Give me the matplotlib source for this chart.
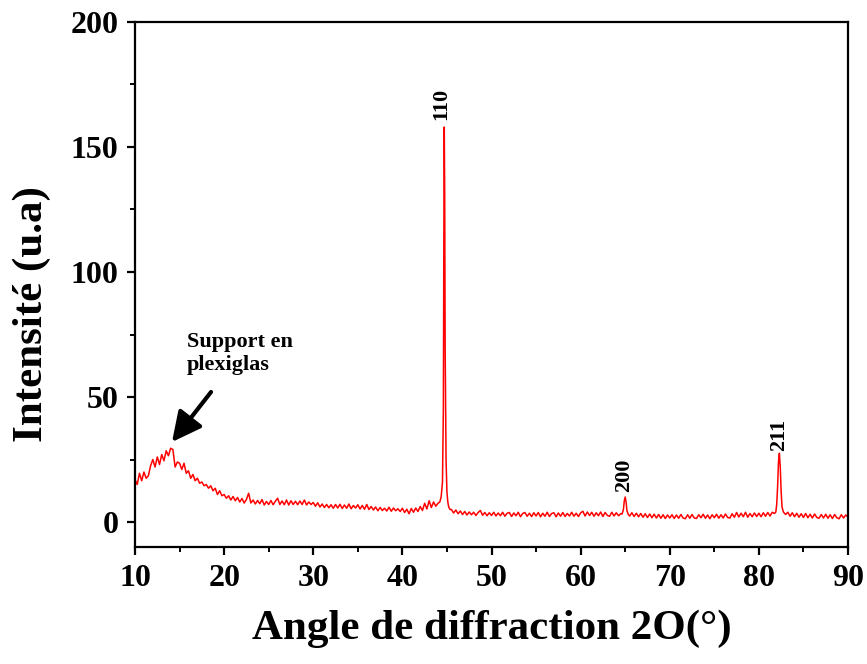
import numpy as np
import matplotlib.pyplot as plt

# fond continu, pas de 0.25 deg, par segments (debut, valeurs)
seg1_x0 = 10.0
seg1_y = [17, 15, 19.5, 16.5, 20, 17.5, 18.5, 22.5, 25, 22, 26, 23, 27, 24.5, 28.5, 26.5, 29.5, 29, 22, 24,
          23.5, 21, 23.5, 19.5, 20.5, 17.5, 19, 16.5, 17.5, 15.5, 16, 14.5, 15, 13.5, 14.5, 12.5, 13.5, 11, 12.5, 10.5,
          11, 9.5, 10.5, 8.8, 10.2, 8.5, 9.8, 8, 9.4, 7.6, 9, 11.5, 7.6, 8.8, 7.2, 8.6, 7.3, 9, 6.8, 8.2,
          7, 8.6, 6.9, 8.3, 9.5, 7, 8.4, 6.9, 8.8, 6.8, 8.5, 7, 8.3, 6.9, 8.4, 7, 8.8, 6.8, 8, 7,
          7.8, 6.3, 7.7, 6, 7.2, 5.8, 7, 5.7, 6.9, 5.5, 7, 5.6, 7.1, 5.4, 6.8, 5.5, 7.2, 5.3, 6.6, 5.6,
          6.9, 5.2, 6.6, 5.1, 7, 5, 6.2, 4.8, 6, 4.5, 5.8, 4.6, 5.5, 4.4, 5.9, 4.3, 5.6, 4.5, 5.3, 4.2,
          5.5, 3.8, 5.1, 3.3, 5.4, 3.9, 5.6, 4.2, 6.2, 4.6, 7.5, 5.2, 8.5, 5.8, 8, 6.3, 7.5]
seg2_x0 = 45.5
seg2_y = [5, 3.6, 4.8, 3.3, 4.4, 3, 4.2, 2.8, 4, 2.9, 3.9, 2.6, 3.8, 4.6, 2.7, 3.8, 2.5, 3.7,
          2.6, 3.9, 2.4, 3.6, 2.5, 3.9, 2.3, 3.5, 3.8, 2.2, 3.6, 2.5, 3.9, 2.1, 3.4, 3.8, 2.3, 3.5, 2.2, 3.7,
          2.4, 3.8, 2.1, 3.5, 2.3, 3.9, 2.2, 3.4, 3.7, 2.1, 3.6, 2.3, 3.8, 2.2, 3.4, 2.4, 3.9, 2.3, 3.5, 2.2,
          3.6, 4.3, 2.4, 4, 2.6, 3.9, 2.3, 3.7, 2.5, 4, 2.2, 3.8, 2.6, 2.3, 3.9, 2.4, 3.7, 2.5, 3.3]
seg3_x0 = 65.5
seg3_y = [2.4, 3.7, 2.2, 3.5, 2.1, 3.4, 1.9, 3.3, 1.8, 3.2, 1.7, 3.1, 1.6, 3, 1.5, 2.9, 1.4, 2.8,
          1.6, 2.9, 1.4, 2.8, 1.5, 3, 1.6, 1.3, 2.9, 1.5, 3, 1.6, 1.4, 2.9, 1.7, 3.1, 1.5, 2.8, 1.3, 2.9,
          1.7, 3.1, 1.5, 2.9, 1.6, 3.2, 1.8, 1.6, 3.3, 1.9, 3.8, 2, 3.5, 2.1, 3.9, 1.9, 3.4, 2.1, 3.6, 2.2,
          3.5, 2.1, 3.7, 2.3, 3.8, 2.4, 3.9, 3.4]
seg4_x0 = 83.25
seg4_y = [3.9, 2.3, 3.7, 2.1, 3.5, 1.9, 3.3, 1.8, 3.4, 1.7, 3.1, 1.6, 3.2, 1.8, 1.5, 3, 1.6, 3.1,
          1.5, 2.9, 1.4, 3, 1.7, 1.3, 2.9, 1.6, 2.8, 2]

# pics de diffraction
pic110_x = [44.2, 44.35, 44.5, 44.6, 44.65, 44.7, 44.75, 44.8, 44.9, 45.0, 45.1, 45.2, 45.35]
pic110_y = [8, 10, 16, 45, 110, 158, 130, 70, 25, 12, 8, 6, 5]
pic200_x = [64.65, 64.8, 64.9, 65.0, 65.1, 65.2, 65.35]
pic200_y = [3.2, 5, 8.5, 10, 8, 4.5, 3]
pic211_x = [81.9, 82.0, 82.1, 82.2, 82.3, 82.4, 82.5, 82.6, 82.75, 83.0]
pic211_y = [4, 7, 14, 24, 27.5, 22, 12, 6, 4, 3]

pics_labels = ['110', '200', '211']
pics_pos = [(44.35, 161), (64.87, 12), (82.26, 28.5)]

xs, ys = [], []
for x0, vals in [(seg1_x0, seg1_y), (seg2_x0, seg2_y), (seg3_x0, seg3_y), (seg4_x0, seg4_y)]:
    xs.append(x0 + 0.25 * np.arange(len(vals)))
    ys.append(np.array(vals, dtype=float))
for px, py in [(pic110_x, pic110_y), (pic200_x, pic200_y), (pic211_x, pic211_y)]:
    xs.append(np.array(px))
    ys.append(np.array(py, dtype=float))
x = np.concatenate(xs)
y = np.concatenate(ys)
ordre = np.argsort(x)
x, y = x[ordre], y[ordre]

plt.rcParams['font.family'] = ['Liberation Serif', 'DejaVu Serif']
plt.rcParams['font.weight'] = 'bold'

fig = plt.figure(figsize=(8.67, 6.64), dpi=100)
ax = fig.add_axes([135/867, 1 - 547/664, (848 - 135)/867, (547 - 22)/664])
ax.plot(x, y, color='red', linewidth=1.1)

ax.set_xlim(10, 90)
ax.set_ylim(-10, 200)
ax.set_xticks(np.arange(10, 91, 10))
ax.set_xticks(np.arange(15, 90, 10), minor=True)
ax.set_yticks(np.arange(0, 201, 50))
ax.set_yticks(np.arange(25, 200, 50), minor=True)
ax.tick_params(which='major', direction='out', length=6, width=1.6, labelsize=23, pad=6,
               top=False, right=False)
ax.tick_params(which='minor', direction='out', length=3.5, width=1.4, top=False, right=False)
for s in ax.spines.values():
    s.set_linewidth(1.6)

ax.set_xlabel('Angle de diffraction 2O(°)', fontsize=31, fontweight='bold', labelpad=12)
ax.set_ylabel('Intensité (u.a)', fontsize=31, fontweight='bold')
ax.yaxis.set_label_coords(-0.118, 0.444)

for lab, (lx, ly) in zip(pics_labels, pics_pos):
    ax.text(lx, ly, lab, rotation=90, ha='center', va='bottom', fontsize=16, fontweight='bold')

ax.annotate('', xy=(14.15, 32), xytext=(18.53, 52),
            arrowprops=dict(arrowstyle='-|>,head_length=0.6,head_width=0.3', color='black',
                            lw=3, mutation_scale=30, shrinkA=0, shrinkB=0))
ax.text(15.83, 76, 'Support en\nplexiglas', ha='left', va='top', fontsize=16, fontweight='bold')

fig.savefig('out.png', dpi=100)
